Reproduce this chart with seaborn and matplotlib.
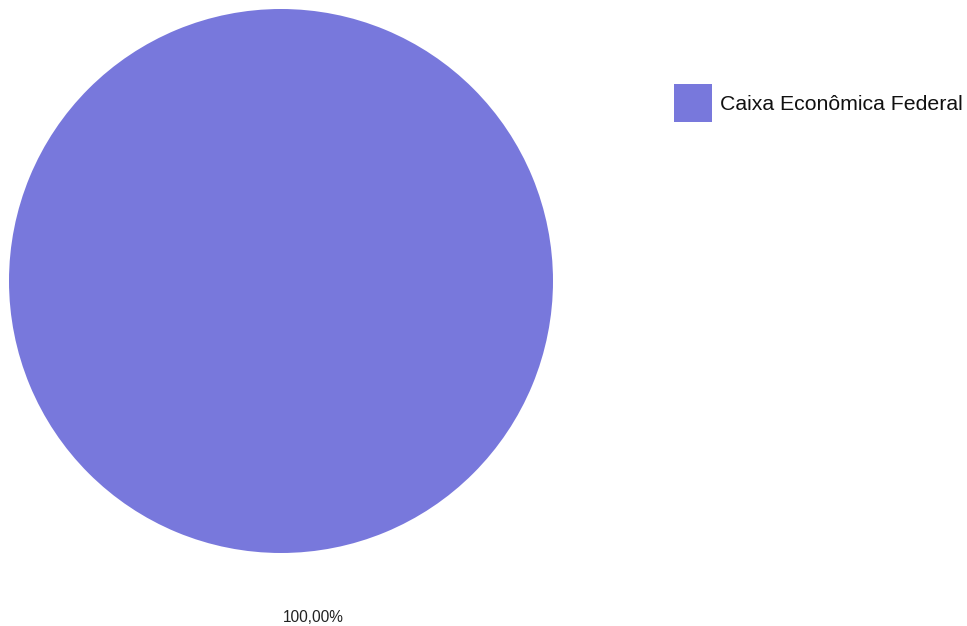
import matplotlib
matplotlib.use("Agg")
import matplotlib.pyplot as plt
import seaborn as sns

categories = ["Caixa Econômica Federal"]
values = [100.0]
colors = ["#7878DC"]
labels = ["100,00%"]

sns.set_style("white")
plt.rcParams['font.family'] = ['Liberation Sans', 'DejaVu Sans']

W, H = 967, 626
fig = plt.figure(figsize=(W / 100, H / 100), dpi=100)
fig.patch.set_facecolor("white")

cx, cy, r = 281, 281, 272
ax = fig.add_axes([(cx - r) / W, (H - cy - r) / H, 2 * r / W, 2 * r / H])
wedges, _ = ax.pie(values, colors=colors, startangle=90, counterclock=False,
                   radius=1, wedgeprops=dict(linewidth=0))
ax.set_xlim(-1, 1)
ax.set_ylim(-1, 1)
ax.set_aspect("equal")
ax.axis("off")

fig.text(313 / W, 1 - 622 / H, labels[0], ha="center", va="baseline",
         fontsize=11.2, color="#222222")

# legend
lx0, ly0, lw, lh = 674, 84, 38, 38
fig.patches.append(matplotlib.patches.Rectangle((lx0 / W, 1 - (ly0 + lh) / H), lw / W, lh / H,
                                                transform=fig.transFigure, facecolor=colors[0],
                                                edgecolor="none"))
fig.text(720 / W, 1 - 110 / H, categories[0], ha="left", va="baseline",
         fontsize=15.3, color="#111111")

fig.savefig("out.png", dpi=100, facecolor="white")
